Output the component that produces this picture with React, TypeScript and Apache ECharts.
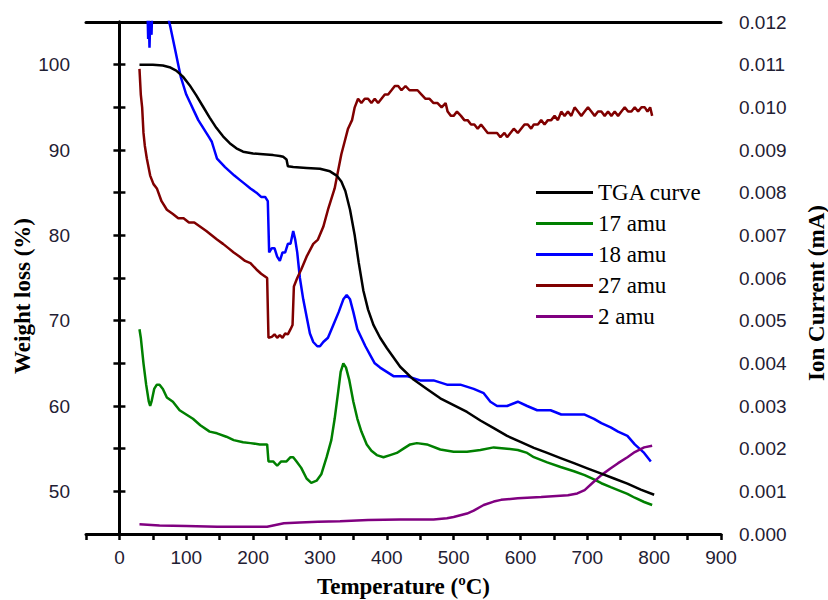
import React, { useEffect, useRef } from "react";
import * as echarts from "echarts";

// TGA curve (left axis, weight loss %)
const tgaTemp = [30, 50, 65, 75, 85, 95, 105, 115, 125, 135, 145, 155, 165, 175, 185, 200, 215, 230, 240, 245, 250, 252, 260, 280, 300, 315, 325, 332, 338, 345, 352, 358, 365, 372, 380, 390, 400, 420, 440, 460, 480, 500, 520, 540, 560, 580, 600, 620, 640, 660, 680, 700, 720, 740, 760, 780, 800];
const tgaWeight = [100, 100, 99.9, 99.7, 99.3, 98.6, 97.6, 96.4, 95.1, 93.8, 92.6, 91.6, 90.8, 90.2, 89.8, 89.6, 89.5, 89.4, 89.3, 89.2, 88.9, 88.1, 88.0, 87.9, 87.8, 87.5, 87.0, 86.3, 85.2, 83.0, 80.0, 76.8, 73.5, 71.3, 69.5, 68.0, 66.8, 64.6, 63.1, 62.0, 60.9, 60.1, 59.3, 58.3, 57.4, 56.5, 55.8, 55.1, 54.5, 53.9, 53.3, 52.7, 52.1, 51.5, 50.9, 50.2, 49.6];

// 17 amu
const amu17Temp = [30, 32, 36, 40, 44, 46, 48, 52, 56, 60, 65, 71, 80, 90, 100, 110, 121, 135, 146, 160, 171, 185, 196, 210, 221, 223, 230, 236, 242, 250, 256, 260, 265, 272, 280, 287, 295, 302, 310, 317, 322, 327, 331, 335, 339, 344, 350, 356, 362, 370, 377, 385, 395, 405, 415, 425, 435, 445, 460, 480, 500, 520, 540, 560, 580, 596, 610, 620, 640, 660, 680, 696, 710, 721, 735, 746, 760, 771, 785, 797];
const amu17Value = [0.0048, 0.0046, 0.004, 0.0035, 0.0031, 0.003, 0.0031, 0.0034, 0.0035, 0.0035, 0.0034, 0.0032, 0.0031, 0.0029, 0.0028, 0.0027, 0.00255, 0.0024, 0.00236, 0.00228, 0.0022, 0.00215, 0.00213, 0.0021, 0.0021, 0.0017, 0.0017, 0.0016, 0.0017, 0.0017, 0.0018, 0.0018, 0.0017, 0.00155, 0.0013, 0.0012, 0.00125, 0.0014, 0.0018, 0.0022, 0.0027, 0.0033, 0.0038, 0.004, 0.0039, 0.0036, 0.0031, 0.0027, 0.0024, 0.0021, 0.00195, 0.00185, 0.0018, 0.00185, 0.0019, 0.002, 0.0021, 0.00213, 0.0021, 0.00198, 0.00193, 0.00193, 0.00197, 0.00203, 0.002, 0.00197, 0.0019, 0.0018, 0.00168, 0.00157, 0.00147, 0.00138, 0.00128, 0.00119, 0.0011, 0.00103, 0.00094, 0.00085, 0.00075, 0.00068];

// 18 amu
const amu18Temp = [42, 43, 44, 45, 46, 48, 50, 55, 70, 73, 76, 80, 84, 88, 92, 96, 100, 106, 112, 118, 122, 126, 130, 134, 138, 142, 146, 152, 158, 165, 172, 180, 188, 196, 205, 212, 218, 222, 224, 228, 232, 236, 240, 244, 248, 252, 256, 260, 263, 266, 270, 275, 280, 285, 290, 296, 300, 305, 312, 320, 328, 335, 340, 345, 350, 356, 362, 368, 375, 382, 390, 400, 410, 430, 450, 470, 490, 510, 530, 545, 555, 565, 580, 596, 610, 625, 645, 661, 680, 696, 710, 721, 735, 746, 760, 771, 785, 795];
const amu18Value = [0.0123, 0.0116, 0.0121, 0.0114, 0.012, 0.0117, 0.0128, 0.014, 0.0135, 0.0121, 0.0119, 0.0116, 0.0113, 0.011, 0.0107, 0.0105, 0.0103, 0.0101, 0.0099, 0.0097, 0.0096, 0.0095, 0.0094, 0.0093, 0.0092, 0.009, 0.0088, 0.0087, 0.0086, 0.0085, 0.0084, 0.0083, 0.0082, 0.0081, 0.008, 0.0079, 0.0079, 0.0078, 0.0066, 0.0067, 0.0067, 0.0065, 0.0064, 0.0066, 0.0066, 0.0068, 0.0068, 0.0071, 0.0069, 0.0066, 0.006, 0.0055, 0.0051, 0.0047, 0.0045, 0.0044, 0.0044, 0.0045, 0.0046, 0.0049, 0.0052, 0.0055, 0.0056, 0.0055, 0.0052, 0.0048, 0.0046, 0.0044, 0.0042, 0.004, 0.0039, 0.0038, 0.0037, 0.0037, 0.0036, 0.0036, 0.0035, 0.0035, 0.0034, 0.0033, 0.0031, 0.003, 0.003, 0.0031, 0.003, 0.0029, 0.0029, 0.0028, 0.0028, 0.0028, 0.0027, 0.0026, 0.0025, 0.0024, 0.0023, 0.0021, 0.0019, 0.0017];

// 27 amu
const amu27Temp = [30, 32, 34, 36, 38, 41, 46, 51, 56, 63, 71, 80, 88, 96, 104, 112, 121, 130, 138, 146, 155, 163, 171, 180, 188, 196, 205, 212, 221, 223, 228, 232, 236, 240, 244, 248, 252, 256, 259, 261, 266, 272, 280, 290, 297, 305, 312, 318, 322, 327, 332, 337, 342, 348, 352, 357, 362, 367, 372, 377, 382, 387, 392, 397, 402, 407, 412, 417, 422, 428, 434, 440, 446, 452, 458, 464, 470, 476, 482, 488, 491, 496, 500, 505, 511, 516, 521, 526, 531, 536, 541, 546, 551, 556, 560, 565, 570, 576, 580, 585, 590, 596, 601, 606, 611, 616, 620, 626, 631, 636, 641, 646, 651, 656, 661, 666, 671, 676, 681, 686, 691, 696, 701, 706, 711, 716, 721, 726, 731, 736, 741, 746, 751, 756, 761, 766, 771, 776, 781, 786, 790, 794, 797];
const amu27Value = [0.0109, 0.0103, 0.01, 0.0094, 0.0091, 0.0088, 0.0084, 0.0082, 0.0081, 0.0078, 0.0076, 0.0075, 0.0074, 0.0074, 0.0073, 0.0073, 0.0072, 0.0071, 0.007, 0.0069, 0.0068, 0.0067, 0.0066, 0.0065, 0.0064, 0.00635, 0.0062, 0.0061, 0.006, 0.0046, 0.00462, 0.00468, 0.0046, 0.00466, 0.0046, 0.0047, 0.00468, 0.0048, 0.0049, 0.0058, 0.006, 0.0062, 0.0065, 0.0068, 0.0069, 0.0072, 0.0076, 0.0079, 0.0081, 0.0085, 0.0089, 0.0092, 0.0095, 0.0097, 0.01, 0.0102, 0.0101, 0.0102, 0.0102, 0.0101, 0.0102, 0.0101, 0.0102, 0.0103, 0.0103, 0.0104, 0.0105, 0.0105, 0.0104, 0.0105, 0.0104, 0.0104, 0.0104, 0.0103, 0.0102, 0.0102, 0.0101, 0.0101, 0.01, 0.0101, 0.0099, 0.0098, 0.0098, 0.0099, 0.0098, 0.0097, 0.0097, 0.0096, 0.0096, 0.0095, 0.0096, 0.0095, 0.0094, 0.0094, 0.0094, 0.0094, 0.0093, 0.0094, 0.0093, 0.0094, 0.0095, 0.0094, 0.0095, 0.0096, 0.0096, 0.0095, 0.0096, 0.0096, 0.0097, 0.0096, 0.0097, 0.0097, 0.0098, 0.0097, 0.0099, 0.0098, 0.0099, 0.0098, 0.01, 0.0099, 0.0098, 0.0099, 0.01, 0.0099, 0.0098, 0.0099, 0.0099, 0.0098, 0.0099, 0.0098, 0.0099, 0.0098, 0.0099, 0.01, 0.0099, 0.0099, 0.01, 0.0099, 0.01, 0.01, 0.0099, 0.01, 0.0098];

// 2 amu
const amu2Temp = [30, 60, 100, 146, 180, 221, 230, 246, 270, 297, 330, 372, 420, 470, 490, 500, 510, 520, 530, 545, 560, 571, 596, 631, 671, 685, 696, 708, 721, 734, 746, 760, 771, 785, 797];
const amu2Value = [0.00023, 0.0002, 0.00019, 0.00017, 0.00017, 0.00017, 0.0002, 0.00025, 0.00027, 0.00029, 0.0003, 0.00033, 0.00034, 0.00034, 0.00037, 0.0004, 0.00044, 0.00048, 0.00055, 0.00068, 0.00076, 0.0008, 0.00084, 0.00087, 0.00091, 0.00095, 0.00103, 0.0012, 0.00138, 0.00153, 0.00166, 0.0018, 0.00192, 0.00203, 0.00207];

const seriesNames = ["TGA curve", "17 amu", "18 amu", "27 amu", "2 amu"];
const seriesColors = ["#000000", "#008000", "#0000ff", "#800000", "#800080"];

const zip = (a: number[], b: number[]) => a.map((v, i) => [v, b[i]]);

export default function App() {
  const ref = useRef<HTMLDivElement>(null);
  useEffect(() => {
    if (!ref.current) return;
    const chart = echarts.init(ref.current, null, { renderer: "svg" });
    const labelStyle = { color: "#1f2033", fontFamily: "Liberation Sans, Arial, sans-serif", fontSize: 19 };
    const nameStyle = { color: "#000", fontFamily: "Liberation Serif, Times New Roman, serif", fontWeight: "bold" as const, fontSize: 23 };
    const axisLine = { show: true, lineStyle: { color: "#000", width: 3 } };
    const axisTick = { show: true, inside: false, length: 6, lineStyle: { color: "#000", width: 2.5 } };
    const data = [
      zip(tgaTemp, tgaWeight),
      zip(amu17Temp, amu17Value),
      zip(amu18Temp, amu18Value),
      zip(amu27Temp, amu27Value),
      zip(amu2Temp, amu2Value),
    ];
    chart.setOption({
      animation: false,
      backgroundColor: "#ffffff",
      grid: { left: 86, right: 107, top: 22, bottom: 66, containLabel: false, outerBoundsMode: "none" },
      legend: {
        orient: "vertical",
        left: 531,
        top: 176,
        icon: "rect",
        itemWidth: 57,
        itemHeight: 3,
        itemGap: 8,
        data: seriesNames,
        textStyle: { color: "#000", fontFamily: "Liberation Serif, Times New Roman, serif", fontSize: 23, lineHeight: 22 },
      },
      xAxis: [
        {
          type: "value",
          min: -50,
          max: 900,
          interval: 50,
          name: "Temperature (ºC)",
          nameLocation: "middle",
          nameGap: 41,
          nameTextStyle: { ...nameStyle, fontSize: 23 },
          axisLine,
          axisTick,
          splitLine: { show: false },
          axisLabel: {
            ...labelStyle,
            margin: 14,
            formatter: (v: number) => (v >= 0 && v % 100 === 0 ? String(v) : ""),
          },
        },
        {
          type: "value",
          position: "top",
          min: -50,
          max: 900,
          axisLine,
          axisTick: { show: false },
          axisLabel: { show: false },
          splitLine: { show: false },
        },
      ],
      yAxis: [
        {
          type: "value",
          position: "left",
          min: 45,
          max: 105,
          interval: 5,
          name: "Weight loss (%)",
          nameLocation: "middle",
          nameRotate: 90,
          nameGap: 52,
          nameMoveOverlap: false,
          nameTextStyle: { ...nameStyle, padding: [0, 36, 0, 0] },
          axisLine,
          axisTick,
          splitLine: { show: false },
          axisLabel: {
            ...labelStyle,
            margin: 16,
            formatter: (v: number) => (v % 10 === 0 && v >= 50 && v <= 100 ? String(v) : ""),
          },
        },
        {
          type: "value",
          position: "right",
          min: 0,
          max: 0.012,
          interval: 0.001,
          name: "Ion Current (mA)",
          nameLocation: "middle",
          nameRotate: 90,
          nameGap: 84,
          nameTextStyle: { ...nameStyle, padding: [0, 30, 0, 0] },
          axisLine,
          axisTick,
          splitLine: { show: false },
          axisLabel: {
            ...labelStyle,
            margin: 18,
            formatter: (v: number) => v.toFixed(3),
          },
        },
      ],
      series: seriesNames.map((name, i) => ({
        name,
        type: "line",
        yAxisIndex: i === 0 ? 0 : 1,
        data: data[i],
        showSymbol: false,
        symbol: "none",
        clip: true,
        z: i === 0 ? 5 : 3,
        lineStyle: { color: seriesColors[i], width: 2.5 },
        itemStyle: { color: seriesColors[i] },
      })),
    });
    return () => chart.dispose();
  }, []);
  return <div ref={ref} style={{ width: 828, height: 600, position: "fixed", left: 0, top: 0 }} />;
}
